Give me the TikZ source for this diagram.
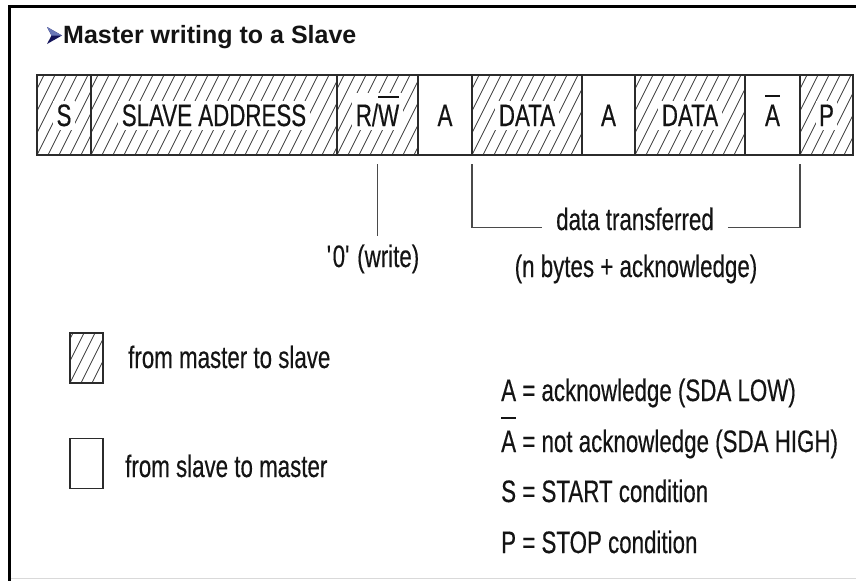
\documentclass[tikz,border=0pt]{standalone}
\usepackage{fontspec}
\newfontfamily\dfont[FakeStretch=0.72,FakeBold=0.35]{Liberation Sans}
\newfontfamily\tfont{Liberation Sans}
\definecolor{boxc}{HTML}{2B2B2B}
\definecolor{hatchc}{HTML}{3A3A3A}
\definecolor{connc}{HTML}{4A4A4A}
\definecolor{txtc}{HTML}{141414}
\definecolor{navyA}{HTML}{14145A}
\definecolor{navyB}{HTML}{6A78B8}
\newcommand\ovbar[2]{\setbox0\hbox{#2}\rlap{\rule[#1]{\wd0}{0.065em}}\box0\relax}
\tikzset{
  cell/.style={draw=boxc, line width=1.4pt, minimum height=80pt, inner sep=0pt, outer sep=0pt},
  hatch/.style={path picture={\foreach \i in {0,...,34}{\draw[hatchc, line width=0.75pt] ([xshift={\i*11pt-44pt}]path picture bounding box.south west) -- ++(40pt,80pt);}}},
  lab/.style={font=\dfont\fontsize{31}{36}\selectfont, text=txtc, fill=white, inner sep=3.5pt, anchor=base},
  txt/.style={font=\dfont\fontsize{31}{36}\selectfont, text=txtc, inner sep=0pt},
  conn/.style={draw=connc, line width=1.2pt},
  legbox/.style={draw=boxc, line width=1.3pt, minimum width=33pt, minimum height=50pt, inner sep=0pt, outer sep=0pt}
}
\begin{document}
\begin{tikzpicture}[x=1pt,y=-1pt]
\useasboundingbox (0,0) rectangle (856,581);
\fill[white] (0,0) rectangle (856,581);
% frame
\fill[black] (8,5) rectangle (856,8);
\fill[black] (8,5) rectangle (11,581);
\fill[black!15] (11,577.5) rectangle (856,578.5);
% title
\fill[navyA] (47,27) -- (62,35.5) -- (47,44) -- (51.5,35.5) -- cycle;
\fill[navyB] (47,27) -- (62,35.5) -- (51.5,35.5) -- cycle;
\node[anchor=base west, inner sep=0pt, font=\tfont\bfseries\fontsize{25}{29}\selectfont, text=txtc] (title) at (63,43) {Master writing to a Slave};
% frame cells
\node[cell, hatch, minimum width=54pt]  (s)  at (64,115) {};
\node[cell, hatch, minimum width=246pt] (sa) at (214,115) {};
\node[cell, hatch, minimum width=81pt]  (rw) at (377.5,115) {};
\node[cell, minimum width=54pt]         (a1) at (445,115) {};
\node[cell, hatch, minimum width=110pt] (d1) at (527,115) {};
\node[cell, minimum width=53pt]         (a2) at (608.5,115) {};
\node[cell, hatch, minimum width=110pt] (d2) at (690,115) {};
\node[cell, minimum width=55pt]         (na) at (772.5,115) {};
\node[cell, hatch, minimum width=53pt]  (p)  at (826.5,115) {};
% labels
\node[lab] (ls)  at ([yshift=-11pt]s.center)  {S};
\node[lab] (lsa) at ([yshift=-11pt]sa.center) {SLAVE ADDRESS};
\node[lab] (lrw) at ([yshift=-11pt]rw.center) {R/\ovbar{0.9em}{W}};
\node[lab] (la1) at ([yshift=-11pt]a1.center) {A};
\node[lab] (ld1) at ([yshift=-11pt]d1.center) {DATA};
\node[lab] (la2) at ([yshift=-11pt]a2.center) {A};
\node[lab] (ld2) at ([yshift=-11pt]d2.center) {DATA};
\node[lab] (lna) at ([yshift=-11pt]na.center) {\ovbar{0.92em}{A}};
\node[lab] (lp)  at ([yshift=-11pt]p.center)  {P};
% annotations
\node[txt, anchor=base] (w0) at (373,267) {\textquotesingle 0\textquotesingle\ (write)};
\node[txt, anchor=base] (dt) at (635,230) {data transferred};
\node[txt, anchor=base] (nb) at (636,277) {(n bytes + acknowledge)};
\coordinate (rwend) at (377.5,236);
\draw[conn] ([yshift=-9pt]rw.south) -- (rwend);
\draw[conn] ([yshift=-9pt]d1.south west) |- ([xshift=-14pt,yshift=0.26em]dt.base west);
\draw[conn] ([xshift=14pt,yshift=0.26em]dt.base east) -| ([yshift=-9pt]p.south west);
% legend
\node[legbox, hatch] (lg1) at (86.5,358) {};
\node[legbox] (lg2) at (86.5,463.5) {};
\node[txt, anchor=base west] (lt1) at (128,368) {from master to slave};
\node[txt, anchor=base west] (lt2) at (125,477) {from slave to master};
\node[txt, anchor=base west] (k1) at (501,401) {A = acknowledge (SDA LOW)};
\node[txt, anchor=base west] (k2) at (501,452) {\ovbar{1.06em}{A} = not acknowledge (SDA HIGH)};
\node[txt, anchor=base west] (k3) at (501,502) {S = START condition};
\node[txt, anchor=base west] (k4) at (501,553) {P = STOP condition};
\end{tikzpicture}
\end{document}
